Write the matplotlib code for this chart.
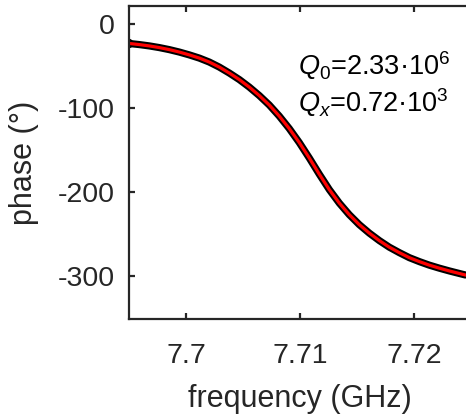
import numpy as np
import matplotlib
matplotlib.use("Agg")
import matplotlib.pyplot as plt

# values
freq_ghz = [7.69494, 7.69590, 7.69678, 7.69766, 7.69853, 7.69941, 7.70029,
            7.70117, 7.70204, 7.70292, 7.70380, 7.70468, 7.70555, 7.70643,
            7.70731, 7.70818, 7.70906, 7.70994, 7.71082, 7.71169, 7.71257,
            7.71345, 7.71432, 7.71520, 7.71608, 7.71696, 7.71783, 7.71871,
            7.71959, 7.72047, 7.72134, 7.72222, 7.72310, 7.72397, 7.72450]
phase_deg = [-23.0, -24.4, -26.0, -28.0, -30.4, -33.3, -36.7,
             -40.5, -45.2, -51.2, -58.3, -66.1, -75.0, -85.1,
             -96.4, -109.5, -124.4, -141.1, -159.5, -178.6, -197.0,
             -213.1, -226.8, -238.7, -248.8, -257.7, -265.5, -272.0,
             -278.0, -282.7, -286.9, -290.5, -293.8, -296.8, -298.6]
x_ticks = [7.70, 7.71, 7.72]
x_tick_labels = ["7.7", "7.71", "7.72"]
y_ticks = [0, -100, -200, -300]

plt.rcParams['font.family'] = ['Liberation Sans', 'DejaVu Sans']
plt.rcParams['axes.unicode_minus'] = False
plt.rcParams['mathtext.fontset'] = 'custom'
plt.rcParams['mathtext.rm'] = 'Liberation Sans'
plt.rcParams['mathtext.it'] = 'Liberation Sans:italic'

W, H = 466, 419
fig = plt.figure(figsize=(W / 100, H / 100), dpi=100)
# axes box runs a little past the right edge, like the cropped original
ax = fig.add_axes([129 / W, (H - 319) / H, 342 / W, 313 / H])

gray = '#262626'
ax.plot(freq_ghz, phase_deg, color='black', lw=5.2, solid_capstyle='round',
        solid_joinstyle='round')
ax.plot(freq_ghz[0], phase_deg[0], 'o', color='black', ms=6)
ax.plot(freq_ghz, phase_deg, color='red', lw=2.3, solid_joinstyle='round')

ax.set_xlim(7.695, 7.725)
ax.set_ylim(-351, 21.5)
ax.set_xticks(x_ticks)
ax.set_xticklabels(x_tick_labels)
ax.set_yticks(y_ticks)

for s in ax.spines.values():
    s.set_color(gray)
    s.set_linewidth(1.6)
ax.tick_params(direction='in', length=4, width=1.6, colors=gray,
               labelsize=20.5, top=True, right=False)
ax.tick_params(axis='x', pad=17)
ax.tick_params(axis='y', pad=10)

ax.set_xlabel("frequency (GHz)", fontsize=22, color=gray, labelpad=11)
ax.set_ylabel("phase (°)", fontsize=22, color=gray, labelpad=14)

fig.text(298 / W, 1 - 75 / H, r'$Q_0$=2.33·10$^6$', fontsize=19.5,
         color='black', va='baseline', ha='left')
fig.text(298 / W, 1 - 112 / H, r'$Q_x$=0.72·10$^3$', fontsize=19.5,
         color='black', va='baseline', ha='left')

fig.savefig("out.png", dpi=100)
